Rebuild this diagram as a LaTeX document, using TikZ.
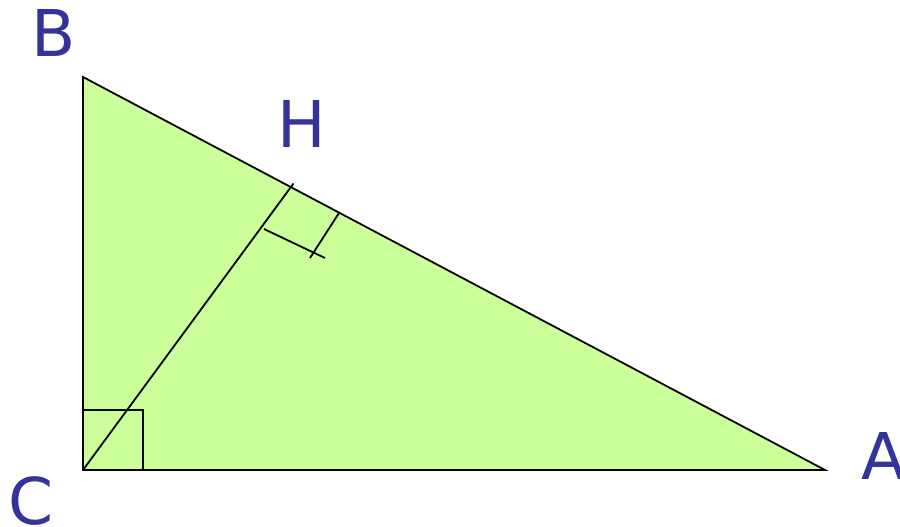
\documentclass[tikz,border=0pt]{standalone}
\usepackage{fontspec}
\setmainfont{DejaVu Sans}
\definecolor{tri}{HTML}{CCFF99}
\definecolor{lab}{HTML}{333399}
\begin{document}
\begin{tikzpicture}[x=1pt,y=-1pt,
  edge/.style={line width=1.8pt,line join=miter},
  letter/.style={text=lab,font=\fontsize{64.5}{70}\selectfont,inner sep=0pt,outer sep=0pt}]
\useasboundingbox (0,0) rectangle (900,527);
\coordinate (C) at (83,470);
\coordinate (B) at (83,77);
\coordinate (A) at (825,470);
\coordinate (Ht) at (293.5,183.5);
\coordinate (m1) at (264,229);
\coordinate (m2) at (325,258);
\coordinate (m3) at (339,213);
\coordinate (m4) at (310,258);
\coordinate (r1) at (83,410);
\coordinate (r2) at (143,410);
\coordinate (r3) at (143,470);
\filldraw[edge,fill=tri] (C) -- (B) -- (A) -- cycle;
\draw[edge] (C) -- (Ht);
\draw[edge] (m1) -- (m2);
\draw[edge] (m3) -- (m4);
\draw[edge] (r1) -- (r2) -- (r3);
\node[letter] (lB) at (53.5,32.5) {B};
\node[letter] (lH) at (302,123.5) {H};
\node[letter] (lC) at (31,501) {C};
\node[letter] (lA) at (884,455.5) {A};
\end{tikzpicture}
\end{document}
